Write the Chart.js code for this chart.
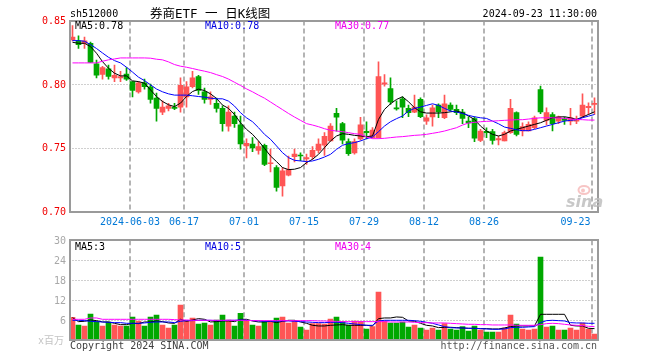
<!DOCTYPE html>
<html><head><meta charset="utf-8">
<script src="https://cdn.jsdelivr.net/npm/chart.js@4.4.1/dist/chart.umd.min.js"></script>
<style>
html,body{margin:0;padding:0;background:#fff;}
#wrap{position:relative;width:660px;height:360px;background:#fff;}
canvas{position:absolute;left:0;top:0;}
</style></head><body>
<div id="wrap"><canvas id="k" width="660" height="360"></canvas><canvas id="v" width="660" height="360"></canvas></div>
<script>
const dates = [
'2024-05-20','2024-05-21','2024-05-22','2024-05-23','2024-05-24','2024-05-27','2024-05-28','2024-05-29','2024-05-30','2024-05-31',
'2024-06-03','2024-06-04','2024-06-05','2024-06-06','2024-06-07','2024-06-11','2024-06-12','2024-06-13','2024-06-14',
'2024-06-17','2024-06-18','2024-06-19','2024-06-20','2024-06-21','2024-06-24','2024-06-25','2024-06-26','2024-06-27','2024-06-28',
'2024-07-01','2024-07-02','2024-07-03','2024-07-04','2024-07-05','2024-07-08','2024-07-09','2024-07-10','2024-07-11','2024-07-12',
'2024-07-15','2024-07-16','2024-07-17','2024-07-18','2024-07-19','2024-07-22','2024-07-23','2024-07-24','2024-07-25','2024-07-26',
'2024-07-29','2024-07-30','2024-07-31','2024-08-01','2024-08-02','2024-08-05','2024-08-06','2024-08-07','2024-08-08','2024-08-09',
'2024-08-12','2024-08-13','2024-08-14','2024-08-15','2024-08-16','2024-08-19','2024-08-20','2024-08-21','2024-08-22','2024-08-23',
'2024-08-26','2024-08-27','2024-08-28','2024-08-29','2024-08-30','2024-09-02','2024-09-03','2024-09-04','2024-09-05','2024-09-06',
'2024-09-09','2024-09-10','2024-09-11','2024-09-12','2024-09-13','2024-09-18','2024-09-19','2024-09-20','2024-09-23'];

const openP = [0.835,0.834,0.832,0.832,0.816,0.8076,0.812,0.805,0.805,0.808,
0.802,0.794,0.801,0.798,0.789,0.778,0.781,0.782,0.782,0.790,
0.798,0.806,0.794,0.788,0.785,0.781,0.767,0.775,0.768,0.7515,
0.753,0.748,0.752,0.7375,0.7345,0.720,0.7285,0.743,0.7443,0.7413,
0.743,0.748,0.752,0.7555,0.777,0.769,0.755,0.746,0.757,0.763,
0.758,0.758,0.800,0.7966,0.7815,0.7885,0.781,0.778,0.788,0.771,
0.7742,0.7836,0.7736,0.7836,0.7802,0.7781,0.771,0.7729,0.7559,0.763,
0.7627,0.7562,0.7554,0.7619,0.7776,0.7632,0.7632,0.7658,0.7958,0.7716,
0.7762,0.771,0.7729,0.771,0.771,0.7749,0.7815,0.7841];
const highP = [0.846,0.838,0.837,0.833,0.819,0.814,0.815,0.815,0.810,0.813,
0.802,0.802,0.804,0.800,0.793,0.787,0.785,0.785,0.805,0.802,
0.810,0.807,0.797,0.794,0.789,0.783,0.783,0.778,0.775,0.757,
0.758,0.755,0.753,0.749,0.736,0.7345,0.7435,0.749,0.746,0.745,
0.751,0.757,0.762,0.769,0.781,0.770,0.757,0.757,0.774,0.7705,
0.766,0.8175,0.8076,0.805,0.787,0.790,0.7836,0.7914,0.7893,0.776,
0.7836,0.7846,0.7914,0.7854,0.7836,0.7802,0.7744,0.7744,0.7645,0.7658,
0.7645,0.7593,0.7632,0.788,0.7783,0.7697,0.7705,0.7749,0.7984,0.7815,
0.7776,0.7749,0.7742,0.781,0.7749,0.7924,0.7854,0.7893];
const lowP = [0.834,0.828,0.828,0.817,0.805,0.804,0.804,0.802,0.802,0.803,
0.790,0.793,0.796,0.785,0.771,0.776,0.779,0.780,0.778,0.782,
0.797,0.792,0.785,0.784,0.778,0.763,0.763,0.766,0.749,0.742,
0.747,0.745,0.736,0.731,0.716,0.712,0.728,0.739,0.740,0.737,
0.741,0.746,0.744,0.7555,0.763,0.753,0.744,0.745,0.756,0.757,
0.7575,0.7575,0.7984,0.784,0.7796,0.7736,0.7744,0.7776,0.7736,0.7684,
0.767,0.7736,0.773,0.7789,0.776,0.769,0.7658,0.7548,0.7548,0.758,
0.7528,0.7522,0.7554,0.7614,0.7593,0.7593,0.7632,0.765,0.7768,0.7679,
0.7632,0.769,0.7684,0.7679,0.769,0.7736,0.7762,0.7762];
const closeP = [0.837,0.831,0.834,0.817,0.807,0.813,0.806,0.807,0.806,0.804,
0.795,0.801,0.798,0.788,0.781,0.782,0.783,0.781,0.799,0.798,
0.805,0.795,0.788,0.790,0.781,0.769,0.778,0.769,0.753,0.7535,
0.750,0.751,0.737,0.7383,0.719,0.732,0.733,0.745,0.7436,0.7423,
0.748,0.753,0.759,0.767,0.774,0.756,0.7455,0.755,0.768,0.762,
0.764,0.806,0.801,0.786,0.7806,0.782,0.7776,0.782,0.7744,0.7736,
0.7815,0.7783,0.7846,0.7802,0.7776,0.7731,0.7695,0.7575,0.7632,0.762,
0.7559,0.7572,0.7619,0.781,0.7606,0.7666,0.7684,0.7736,0.7783,0.7776,
0.769,0.7744,0.7716,0.7736,0.7723,0.7836,0.7825,0.7849];

const ma5 = [0.8329,0.8321,0.8321,0.8295,0.8243,0.8177,0.8125,0.8086,0.8065,0.8065,
0.8026,0.802,0.8008,0.7955,0.7903,0.7864,0.7838,0.7824,0.7851,0.7903,
0.7942,0.7961,0.795,0.7924,0.7888,0.7836,0.781,0.7762,0.7697,0.7645,
0.7606,0.7554,0.7496,0.7436,0.7392,0.7345,0.7329,0.7332,0.7345,0.7384,
0.741,0.7449,0.7501,0.7554,0.7593,0.7611,0.7606,0.7598,0.7593,0.7588,
0.7593,0.7723,0.7802,0.7846,0.788,0.7901,0.7862,0.7815,0.7783,0.7773,
0.7773,0.7773,0.7776,0.7783,0.7789,0.7776,0.775,0.7723,0.7671,0.7632,
0.7606,0.7593,0.7606,0.7632,0.7645,0.7658,0.7671,0.7684,0.7697,0.7716,
0.7736,0.7742,0.7744,0.7736,0.7723,0.7742,0.7762,0.7783];
const ma10 = [0.8342,0.8342,0.8337,0.8311,0.828,0.8245,0.8211,0.8185,0.8167,0.8133,
0.8095,0.8055,0.8028,0.7995,0.7962,0.794,0.7924,0.7914,0.7914,0.7914,
0.7909,0.7903,0.7898,0.789,0.7885,0.7885,0.7867,0.7828,0.7776,0.7736,
0.7705,0.7658,0.7606,0.7567,0.7515,0.7462,0.7423,0.7402,0.7397,0.7392,
0.7397,0.741,0.7428,0.7449,0.7488,0.752,0.7533,0.7541,0.7554,0.7572,
0.7585,0.7627,0.7671,0.7705,0.7729,0.775,0.7789,0.781,0.782,0.7833,
0.7846,0.7833,0.781,0.7789,0.7781,0.777,0.7755,0.7744,0.7736,0.7731,
0.771,0.7689,0.7663,0.7653,0.7642,0.7635,0.7635,0.7645,0.7658,0.7671,
0.7684,0.7697,0.771,0.7716,0.7721,0.7736,0.7749,0.7762];
const ma30 = [0.8167,0.8167,0.8167,0.8167,0.8167,0.818,0.8191,0.8198,0.8206,0.8206,
0.8206,0.8206,0.8206,0.8204,0.8196,0.8191,0.8175,0.8154,0.8141,0.8133,
0.8123,0.8112,0.8102,0.8091,0.8075,0.8060,0.8040,0.8015,0.799,0.7963,
0.794,0.7914,0.789,0.786,0.783,0.780,0.777,0.7742,0.7716,0.769,
0.7679,0.7666,0.765,0.7638,0.7632,0.7627,0.7619,0.7611,0.7606,0.7585,
0.7572,0.7572,0.7575,0.758,0.7585,0.7588,0.7593,0.7598,0.7601,0.7606,
0.7614,0.7622,0.7632,0.7645,0.7658,0.7679,0.7695,0.77,0.7705,0.7708,
0.771,0.7713,0.7716,0.7718,0.7721,0.7721,0.7726,0.7731,0.7736,0.7736,
0.7736,0.7734,0.7731,0.7726,0.7723,0.7721,0.7718,0.7718];

const volume = [6.9,4.6,4.3,7.9,5.6,4.3,5.5,4.6,4.3,4.3,
7.0,5.8,4.3,7.0,7.6,4.6,3.7,4.6,10.6,5.7,
6.7,4.9,5.2,4.6,6.1,7.6,6.1,4.3,8.1,6.0,
4.6,4.3,5.7,5.6,6.7,7.0,5.2,5.7,4.0,3.1,
5.0,5.0,4.9,6.4,7.0,5.6,4.6,5.8,5.7,3.4,
4.1,14.5,5.8,5.2,5.2,5.5,4.0,4.6,3.7,3.1,
3.7,3.1,5.0,3.4,3.1,4.1,2.8,4.3,3.1,2.5,
2.5,2.5,3.7,7.6,4.9,3.4,3.1,3.4,25.0,4.0,
4.3,3.1,3.1,3.7,3.1,5.2,3.4,1.9];
const vma5 = [6.8,5.6,5.7,6.1,5.9,5.5,5.5,5.1,4.7,4.7,
5.1,5.0,5.5,5.5,5.8,5.6,5.2,5.1,6.3,5.7,
6.1,6.5,6.3,5.5,5.6,5.8,5.8,5.6,6.3,6.3,
5.8,5.5,5.5,5.7,5.3,5.7,6.0,6.0,5.5,5.1,
4.5,4.3,4.3,4.5,4.6,4.7,4.5,4.5,4.5,4.5,
4.3,6.5,6.7,6.7,7.0,6.9,5.8,5.7,5.1,4.5,
4.3,3.8,3.9,3.9,3.8,3.7,3.6,3.6,3.5,3.5,
3.4,3.4,3.7,4.1,4.3,4.3,4.3,4.3,7.8,7.8,
7.8,7.8,7.8,4.5,4.3,4.3,3.6,3.5];
const vma10 = [6.0,6.0,5.9,5.7,5.6,5.5,5.4,5.3,5.3,5.1,
5.1,5.1,5.2,5.4,5.5,5.5,5.5,5.3,5.7,5.9,
5.9,6.0,6.0,6.0,5.9,5.9,6.0,6.0,6.1,6.0,
5.9,5.8,5.7,5.7,5.7,5.8,5.8,5.7,5.6,5.5,
5.4,5.3,5.3,5.4,5.4,5.3,5.1,4.9,4.7,4.5,
4.5,5.8,6.0,6.0,6.0,6.0,6.0,5.9,5.7,5.4,
5.1,4.6,4.1,3.8,3.7,3.7,3.6,3.6,3.5,3.4,
3.3,3.3,3.4,3.8,3.9,3.9,4.0,4.1,5.3,5.9,
6.0,5.9,5.8,5.3,5.2,5.2,5.1,5.1];
const vma30 = [6.3,6.3,6.3,6.7,6.7,6.3,6.3,6.3,6.3,6.3,
6.3,6.3,6.3,6.3,6.3,6.3,6.3,6.2,6.1,6.1,
6.0,6.0,6.0,6.0,6.0,6.0,6.0,6.0,6.0,6.0,
5.9,5.9,5.9,5.9,5.9,5.9,5.9,5.9,5.9,5.9,
5.9,5.8,5.8,5.7,5.7,5.6,5.6,5.6,5.6,5.6,
5.6,5.6,5.6,5.5,5.5,5.5,5.5,5.4,5.3,5.3,
5.2,5.2,5.2,5.1,5.0,4.9,4.8,4.8,4.7,4.7,
4.6,4.6,4.6,4.6,4.5,4.5,4.5,4.5,4.7,5.0,
5.1,5.0,4.8,4.6,4.5,4.4,4.2,4.1];

const tickDates = ['2024-06-03','2024-06-17','2024-07-01','2024-07-15','2024-07-29','2024-08-12','2024-08-26','2024-09-23'];
const tickLabels = ['2024-06-03','06-17','07-01','07-15','07-29','08-12','08-26','09-23'];
const priceTicks = [0.85,0.80,0.75,0.70];
const priceTickLabels = ['0.85','0.80','0.75','0.70'];
const volTicks = [30,24,18,12,6];

const UP = '#ff5555', DOWN = '#00a800';
const candleColors = closeP.map((c,i)=> c >= openP[i] ? UP : DOWN);
const MONO = '"DejaVu Sans Mono", "Liberation Mono", monospace';

function drawVDashes(chart, top, bottom){
  const ctx = chart.ctx, xs = chart.scales.x;
  ctx.save();
  ctx.strokeStyle = '#b4b4b4'; ctx.lineWidth = 2; ctx.setLineDash([5,3]);
  tickDates.forEach(d=>{
    const x = xs.getPixelForValue(dates.indexOf(d)) - 2.5;
    ctx.beginPath(); ctx.moveTo(x, top); ctx.lineTo(x, bottom); ctx.stroke();
  });
  ctx.restore();
}
function drawHDots(chart, vals){
  const ctx = chart.ctx, ys = chart.scales.y, a = chart.chartArea;
  ctx.save();
  ctx.strokeStyle = '#a0a0a0'; ctx.lineWidth = 1; ctx.setLineDash([1,2]);
  vals.forEach(v=>{
    const y = Math.round(ys.getPixelForValue(v)) + 0.5;
    ctx.beginPath(); ctx.moveTo(a.left, y); ctx.lineTo(a.right, y); ctx.stroke();
  });
  ctx.restore();
}
function drawBorder(chart){
  const ctx = chart.ctx, a = chart.chartArea;
  ctx.save();
  ctx.strokeStyle = '#9a9a9a'; ctx.lineWidth = 2;
  ctx.strokeRect(Math.round(a.left), Math.round(a.top), Math.round(a.right) - Math.round(a.left), Math.round(a.bottom) - Math.round(a.top));
  ctx.restore();
}
function txt(ctx, s, x, y, color, font, align){
  ctx.fillStyle = color; ctx.font = font; ctx.textAlign = align || 'left'; ctx.textBaseline = 'alphabetic';
  ctx.fillText(s, x, y);
}

const mainPlugin = {
  id: 'mainDeco',
  beforeDatasetsDraw(chart){
    const a = chart.chartArea;
    drawHDots(chart, [priceTicks[1], priceTicks[2]]);
    drawVDashes(chart, a.top, a.bottom);
  },
  afterDatasetsDraw(chart){ drawBorder(chart); },
  afterDraw(chart){
    const ctx = chart.ctx, ys = chart.scales.y, xs = chart.scales.x, a = chart.chartArea;
    const f10 = '10px ' + MONO;
    priceTicks.forEach((v,k)=> txt(ctx, priceTickLabels[k], 66, ys.getPixelForValue(v) + 3.6, '#f00000', f10, 'right'));
    ctx.font = f10;
    tickDates.forEach((d,k)=>{
      const x = xs.getPixelForValue(dates.indexOf(d)) - 2.5;
      const w = ctx.measureText(tickLabels[k]).width;
      if (x + w/2 > a.right - 2) txt(ctx, tickLabels[k], x - 1.5, 225, '#0078d7', f10, 'right');
      else txt(ctx, tickLabels[k], x, 225, '#0078d7', f10, 'center');
    });
    txt(ctx, 'sh512000', 70, 16.5, '#000', f10, 'left');
    txt(ctx, '券商ETF 一 日K线图', 150, 17.5, '#000', '12.5px ' + MONO + ', "Noto Sans CJK SC"', 'left');
    txt(ctx, '2024-09-23 11:30:00', 597, 16.5, '#000', f10, 'right');
    txt(ctx, 'MA5:' + ma5[ma5.length-1].toFixed(2), 75, 29, '#000', f10, 'left');
    txt(ctx, 'MA10:' + ma10[ma10.length-1].toFixed(2), 205, 29, '#0000e0', f10, 'left');
    txt(ctx, 'MA30:' + ma30[ma30.length-1].toFixed(2), 335, 29, '#ee00ee', f10, 'left');
    // sina watermark
    ctx.save();
    ctx.strokeStyle = 'rgba(240,150,150,0.55)'; ctx.lineWidth = 2;
    ctx.beginPath(); ctx.ellipse(584, 190, 5.5, 4, 0, 0, Math.PI*2); ctx.stroke();
    ctx.fillStyle = 'rgba(240,150,150,0.55)';
    ctx.beginPath(); ctx.arc(583, 190.5, 2, 0, Math.PI*2); ctx.fill();
    ctx.restore();
    txt(ctx, 'sina', 566, 207, 'rgba(190,190,190,0.85)', 'italic bold 16px "DejaVu Sans"', 'left');
  }
};

const volPlugin = {
  id: 'volDeco',
  beforeDatasetsDraw(chart){
    const a = chart.chartArea;
    drawHDots(chart, volTicks.slice(1));
    drawVDashes(chart, a.top, a.bottom);
  },
  afterDatasetsDraw(chart){ drawBorder(chart); },
  afterDraw(chart){
    const ctx = chart.ctx, ys = chart.scales.y;
    const f10 = '10px ' + MONO;
    volTicks.forEach(v=> txt(ctx, String(v), 66, ys.getPixelForValue(v) + 3.6, '#a8a8a8', f10, 'right'));
    txt(ctx, 'x百万', 38, 344, '#c4c4c4', '10px ' + MONO + ', "Noto Sans CJK SC"', 'left');
    txt(ctx, 'MA5:' + Math.floor(vma5[vma5.length-1]), 75, 250, '#000', f10, 'left');
    txt(ctx, 'MA10:' + Math.floor(vma10[vma10.length-1]), 205, 250, '#0000e0', f10, 'left');
    txt(ctx, 'MA30:' + Math.floor(vma30[vma30.length-1]), 335, 250, '#ee00ee', f10, 'left');
    txt(ctx, 'Copyright 2024 SINA.COM', 70, 348.5, '#404040', f10, 'left');
    txt(ctx, 'http://finance.sina.com.cn', 597, 348.5, '#555', f10, 'right');
  }
};

function lineDs(data, color){
  return {type:'line', data, borderColor: color, borderWidth: 1, pointRadius: 0, tension: 0, fill: false, order: 0};
}

const commonOpts = (padding, ymin, ymax) => ({
  responsive: false, animation: false, devicePixelRatio: 1,
  layout: {padding},
  events: [],
  plugins: {legend: {display: false}, tooltip: {enabled: false}},
  scales: {
    x: {display: false, offset: true},
    y: {display: false, min: ymin, max: ymax}
  }
});

new Chart(document.getElementById('k'), {
  type: 'bar',
  data: {
    labels: dates,
    datasets: [
      {type:'bar', data: lowP.map((l,i)=>[l, highP[i]]), backgroundColor: candleColors, barThickness: 1, grouped: false, order: 2},
      {type:'bar', data: openP.map((o,i)=>[o, closeP[i]]), backgroundColor: candleColors, barThickness: 5, minBarLength: 1, grouped: false, order: 1},
      lineDs(ma30, '#ff00ff'),
      lineDs(ma10, '#0000ff'),
      lineDs(ma5, '#000000')
    ]
  },
  options: commonOpts({left: 69.5, right: 62.5, top: 20.5, bottom: 148.5}, priceTicks[3], priceTicks[0]),
  plugins: [mainPlugin]
});

new Chart(document.getElementById('v'), {
  type: 'bar',
  data: {
    labels: dates,
    datasets: [
      {type:'bar', data: volume, backgroundColor: candleColors, barThickness: 5, grouped: false, order: 1},
      lineDs(vma30, '#ff00ff'),
      lineDs(vma10, '#0000ff'),
      lineDs(vma5, '#000000')
    ]
  },
  options: commonOpts({left: 69.5, right: 62.5, top: 240.3, bottom: 19.7}, 0, volTicks[0]),
  plugins: [volPlugin]
});
</script>
</body></html>
